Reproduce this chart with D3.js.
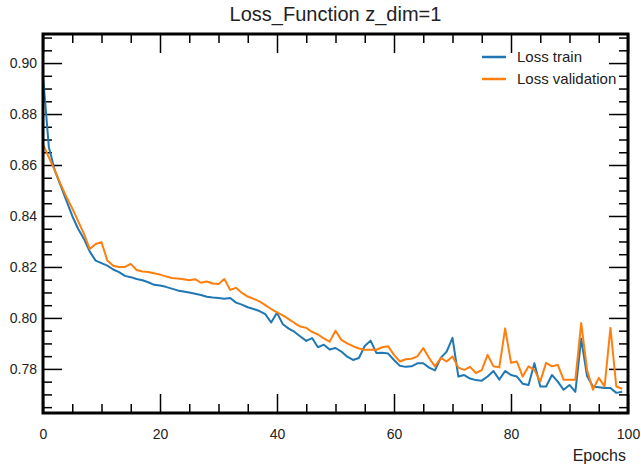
<!DOCTYPE html>
<html>
<head>
<meta charset="utf-8">
<script src="https://cdn.jsdelivr.net/npm/d3@7"></script>
<style>
  body { margin: 0; background: #fff; }
  text { font-family: "Liberation Sans", Arial, sans-serif; fill: #222; }
  .axis .domain { display: none; }
  .axis line { stroke: #000; stroke-width: 1.5px; }
</style>
</head>
<body>
<div id="chart"></div>
<script>
// values
const epochs = d3.range(0, 100);
const lossTrain = [
  0.895, 0.867, 0.858, 0.852, 0.846, 0.840, 0.835, 0.831, 0.826, 0.8225,
  0.8215, 0.8205, 0.819, 0.818, 0.8165, 0.816, 0.8153, 0.8148, 0.814, 0.813,
  0.8127, 0.8122, 0.8115, 0.8108, 0.8104, 0.810, 0.8095, 0.809, 0.8083, 0.808,
  0.8078, 0.8075, 0.8078, 0.806, 0.8052, 0.8042, 0.8035, 0.8027, 0.8015, 0.7982,
  0.802, 0.7975, 0.7958, 0.7945, 0.7927, 0.791, 0.7921, 0.7885, 0.7895, 0.7876,
  0.7882, 0.7868, 0.7848, 0.7835, 0.7843, 0.789, 0.7911, 0.7862, 0.7863, 0.786,
  0.7835, 0.7812, 0.7808, 0.781, 0.7822, 0.7822, 0.7805, 0.7794, 0.7843, 0.7868,
  0.7922, 0.777, 0.7776, 0.7762, 0.7756, 0.7754, 0.777, 0.7792, 0.7758, 0.7792,
  0.7776, 0.777, 0.7742, 0.7737, 0.7822, 0.7731, 0.7731, 0.7776, 0.775, 0.7718,
  0.7737, 0.771, 0.7918, 0.7772, 0.7731, 0.7728, 0.7725, 0.7725, 0.7706, 0.771
];
const lossVal = [
  0.8682, 0.863, 0.858, 0.8525, 0.8475, 0.843, 0.838, 0.833, 0.827, 0.829,
  0.8297, 0.8225, 0.8205, 0.820, 0.820, 0.8212, 0.8188, 0.8182, 0.818, 0.8175,
  0.817, 0.8163, 0.8157, 0.8155, 0.8152, 0.8148, 0.8152, 0.8138, 0.8143, 0.8135,
  0.8133, 0.8153, 0.811, 0.8118, 0.8098, 0.8084, 0.8075, 0.8065, 0.805, 0.8035,
  0.8022, 0.801, 0.7995, 0.798, 0.7966, 0.7961, 0.7945, 0.7935, 0.792, 0.7907,
  0.795, 0.7914, 0.790, 0.7889, 0.788, 0.7875, 0.7875, 0.7875, 0.7885, 0.7889,
  0.7855, 0.7829, 0.7838, 0.784, 0.7849, 0.7882, 0.7843, 0.781, 0.7843, 0.7829,
  0.7849, 0.7805, 0.7796, 0.7808, 0.7784, 0.7795, 0.7855, 0.781, 0.7806, 0.7959,
  0.7824, 0.7829, 0.777, 0.781, 0.7796, 0.775, 0.7824, 0.781, 0.7816, 0.7757,
  0.7757, 0.7757, 0.798, 0.7796, 0.7718, 0.7765, 0.7731, 0.7961, 0.7731, 0.7722
];
const xTicks = [0, 20, 40, 60, 80, 100];
const yTicks = [0.78, 0.80, 0.82, 0.84, 0.86, 0.88, 0.90];
const seriesNames = ["Loss train", "Loss validation"];
const seriesColors = ["#1f77b4", "#ff7f0e"];

const W = 641, H = 466;
const margin = {top: 34, right: 13, bottom: 53, left: 43};
const width = W - margin.left - margin.right;
const height = H - margin.top - margin.bottom;

const svg = d3.select("#chart").append("svg")
    .attr("width", W)
    .attr("height", H);

const g = svg.append("g")
    .attr("transform", `translate(${margin.left},${margin.top})`);

const x = d3.scaleLinear().domain([0, 100]).range([0, width]);
const y = d3.scaleLinear().domain([0.7627, 0.9114]).range([height, 0]);

const xMinor = d3.range(0, 101, 5).filter(v => v % 20 !== 0);
const yMinor = d3.range(0.765, 0.911, 0.005).map(v => +v.toFixed(3))
    .filter(v => !yTicks.some(t => Math.abs(t - v) < 1e-6));

// inward ticks on all four sides
function addTicks(axisFn, scale, values, size, transform, fmt) {
  const ax = axisFn(scale).tickValues(values).tickSizeInner(-size).tickSizeOuter(0)
      .tickPadding(size + 8);
  ax.tickFormat(fmt || "");
  return g.append("g").attr("class", "axis").attr("transform", transform).call(ax);
}

const xAx = addTicks(d3.axisBottom, x, xTicks, 19, `translate(0,${height})`, d3.format("d"));
addTicks(d3.axisBottom, x, xMinor, 9, `translate(0,${height})`);
addTicks(d3.axisTop, x, xTicks, 19, "translate(0,0)");
addTicks(d3.axisTop, x, xMinor, 9, "translate(0,0)");
const yAx = addTicks(d3.axisLeft, y, yTicks, 19, "translate(0,0)", d3.format(".2f"));
addTicks(d3.axisLeft, y, yMinor, 9, "translate(0,0)");
addTicks(d3.axisRight, y, yTicks, 19, `translate(${width},0)`);
addTicks(d3.axisRight, y, yMinor, 9, `translate(${width},0)`);

xAx.selectAll("text").attr("y", 16).style("font-size", "14px");
yAx.selectAll("text").attr("x", -6).style("font-size", "14px");

// lines
const line = d3.line().x((d, i) => x(epochs[i])).y(d => y(d));

g.append("defs").append("clipPath").attr("id", "clip")
    .append("rect").attr("width", width).attr("height", height);

[lossTrain, lossVal].forEach((s, k) => {
  g.append("path")
      .datum(s)
      .attr("clip-path", "url(#clip)")
      .attr("fill", "none")
      .attr("stroke", seriesColors[k])
      .attr("stroke-width", 2)
      .attr("stroke-linejoin", "round")
      .attr("d", line);
});

// frame
g.append("rect")
    .attr("width", width)
    .attr("height", height)
    .attr("fill", "none")
    .attr("stroke", "#000")
    .attr("stroke-width", 3);

// legend
const legend = g.append("g").attr("transform", `translate(${439},${23})`);
seriesNames.forEach((name, k) => {
  const row = legend.append("g").attr("transform", `translate(0,${k * 22})`);
  row.append("line")
      .attr("x1", 0).attr("x2", 24)
      .attr("stroke", seriesColors[k])
      .attr("stroke-width", 2.5);
  row.append("text")
      .attr("x", 35).attr("y", 5)
      .style("font-size", "15px")
      .text(name);
});

// title and axis label
svg.append("text")
    .attr("x", margin.left + width / 2)
    .attr("y", 21)
    .attr("text-anchor", "middle")
    .style("font-size", "20px")
    .text("Loss_Function z_dim=1");

svg.append("text")
    .attr("x", margin.left + width - 2)
    .attr("y", 461)
    .attr("text-anchor", "end")
    .style("font-size", "16px")
    .text("Epochs");
</script>
</body>
</html>
